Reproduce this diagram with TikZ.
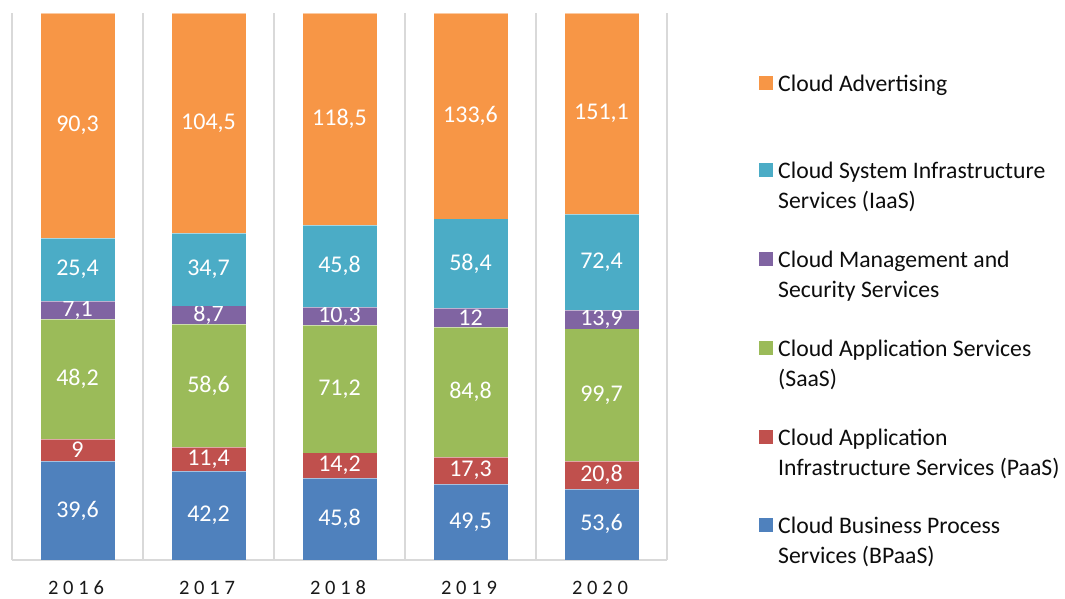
\documentclass[tikz,border=0pt]{standalone}
\usepackage{fontspec}
\setmainfont{Carlito}
\definecolor{cAdv}{HTML}{F79646}
\definecolor{cIaaS}{HTML}{4BACC6}
\definecolor{cMgmt}{HTML}{8064A2}
\definecolor{cSaaS}{HTML}{9BBB59}
\definecolor{cPaaS}{HTML}{C0504D}
\definecolor{cBP}{HTML}{4F81BD}
\definecolor{gridc}{HTML}{D9D9D9}
\def\spacedig#1#2#3#4\relax{#1\kern4.8pt#2\kern4.8pt#3\kern4.8pt#4}
\pgfkeys{/pgf/number format/.cd,use comma,assume math mode=true}
\begin{document}
\begin{tikzpicture}[x=1pt,y=-1pt,
  grid/.style={draw=gridc,line width=1.5pt},
  val/.style={text=white,font=\fontsize{24}{24}\selectfont,inner sep=0pt},
  yearlab/.style={text=black!90,font=\fontsize{20.5}{20.5}\selectfont,inner sep=0pt},
  legtxt/.style={anchor=north west,align=left,inner sep=0pt,text=black!95,font=\fontsize{23.7}{30}\selectfont},
  legmark/.style={minimum size=14pt,inner sep=0pt}]
\useasboundingbox[fill=white] (0,0) rectangle (1065,598);
% gridlines
\foreach \k in {0,...,5}{
  \coordinate (gt\k) at (12+131*\k,13);
  \coordinate (gb\k) at (12+131*\k,560);
  \draw[grid] (gt\k) -- (gb\k);
}
\draw[grid] (gb0) -- (gb5);
% bars
\foreach \yr/\a/\b/\c/\d/\e/\f [count=\i from 0] in {
  2016/39.6/9/48.2/7.1/25.4/90.3,
  2017/42.2/11.4/58.6/8.7/34.7/104.5,
  2018/45.8/14.2/71.2/10.3/45.8/118.5,
  2019/49.5/17.3/84.8/12/58.4/133.6,
  2020/53.6/20.8/99.7/13.9/72.4/151.1}{
  \pgfmathsetmacro\T{\a+\b+\c+\d+\e+\f}
  \pgfmathsetmacro\xc{77.5+131*\i}
  \gdef\cum{0}
  \foreach \v/\col [count=\j] in {\a/cBP,\b/cPaaS,\c/cSaaS,\d/cMgmt,\e/cIaaS,\f/cAdv}{
    \pgfmathsetmacro\ylo{560-547*(\cum/\T)}
    \pgfmathsetmacro\newcum{\cum+\v}
    \xdef\cum{\newcum}
    \pgfmathsetmacro\yhi{560-547*(\cum/\T)}
    \fill[\col] (\xc-37,\ylo) rectangle (\xc+37,\yhi);
    \draw[white,opacity=0.5,line width=0.5pt] (\xc-37,\yhi) -- (\xc+37,\yhi);
    \node[val] (v\yr-\j) at (\xc,{(\ylo+\yhi)/2}) {\pgfmathprintnumber{\v}};
  }
  \node[yearlab] (yr\yr) at (\xc-1.5,588) {\expandafter\spacedig\yr\relax};
}
% legend
\foreach \col/\txt/\yy [count=\n] in {
  cAdv/{Cloud Advertising}/83,
  cIaaS/{Cloud System Infrastructure\\Services (IaaS)}/170,
  cMgmt/{Cloud Management and\\Security Services}/259,
  cSaaS/{Cloud Application Services\\(SaaS)}/348,
  cPaaS/{Cloud Application\\Infrastructure Services (PaaS)}/437,
  cBP/{Cloud Business Process\\Services (BPaaS)}/525}{
  \node[legmark,fill=\col] (lm\n) at (766,\yy) {};
  \node[legtxt] (lt\n) at (778,\yy-8) {\txt};
}
\end{tikzpicture}
\end{document}
